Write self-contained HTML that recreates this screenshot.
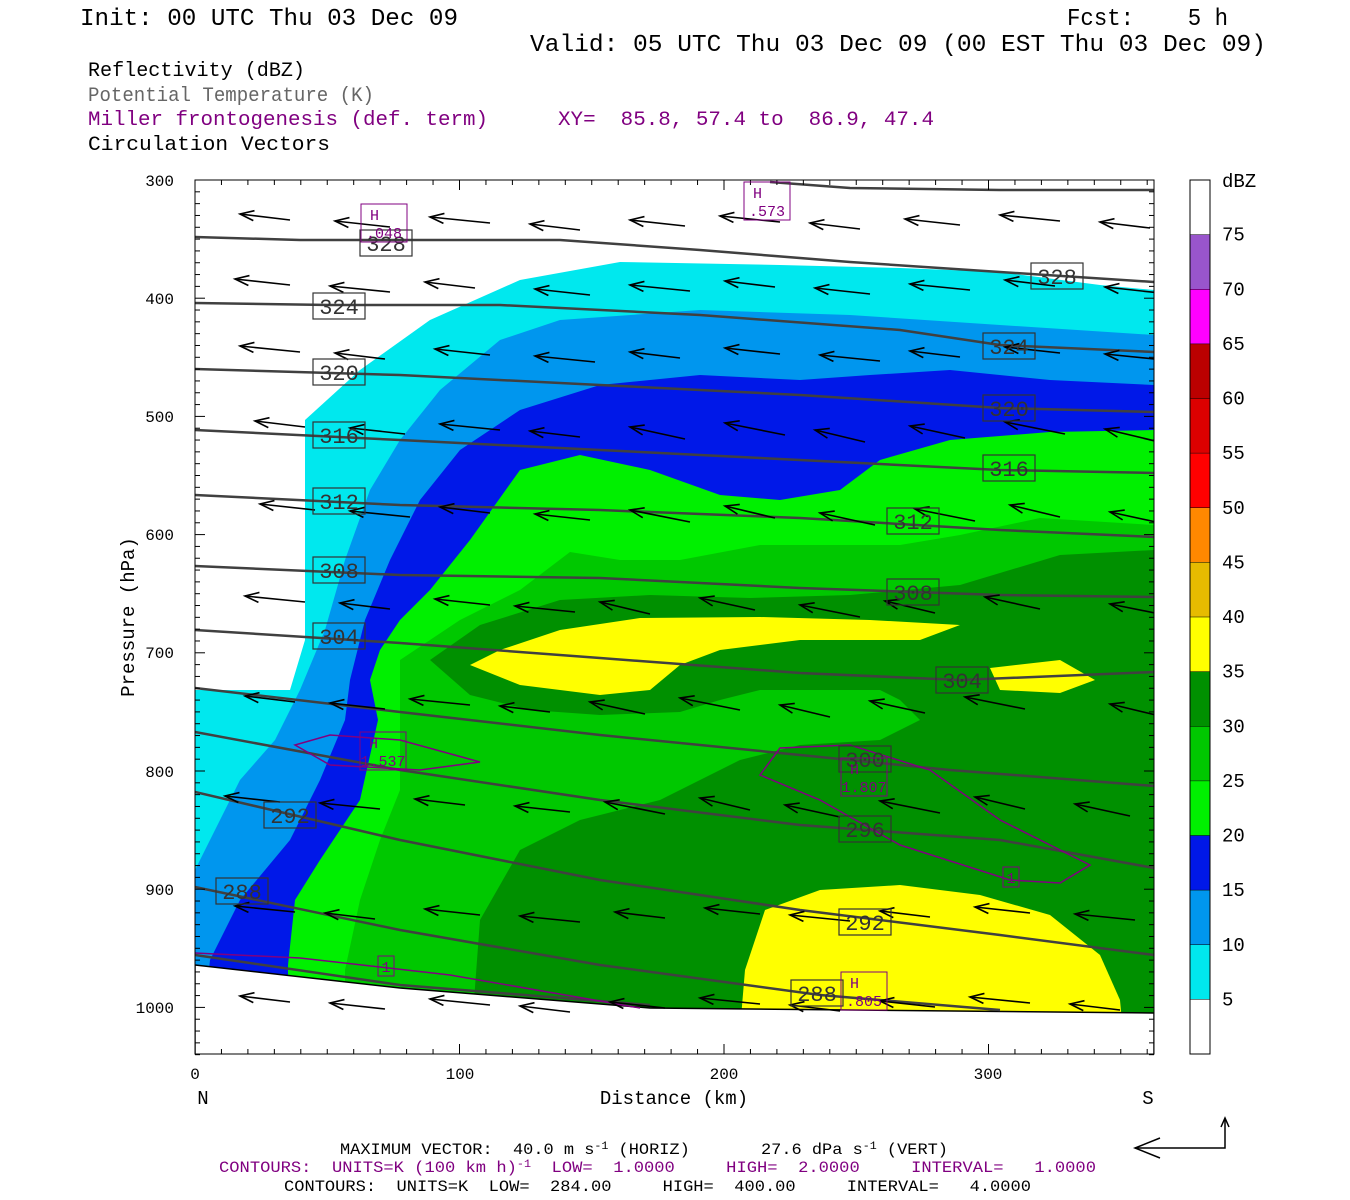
<!DOCTYPE html>
<html><head><meta charset="utf-8"><style>
body{margin:0;background:#fff;width:1350px;height:1200px;overflow:hidden}
svg{display:block}
text{font-family:"Liberation Mono",monospace;white-space:pre}
</style></head><body>
<svg id="s" width="1350" height="1200" viewBox="0 0 1350 1200" xml:space="preserve">
<defs><clipPath id="c"><rect x="195" y="180" width="959" height="874"/></clipPath></defs>
<g font-size="24">
<text x="80" y="25" textLength="378" lengthAdjust="spacingAndGlyphs">Init: 00 UTC Thu 03 Dec 09</text>
<text x="1067" y="25" textLength="161" lengthAdjust="spacingAndGlyphs">Fcst:    5 h</text>
<text x="530" y="51" textLength="736" lengthAdjust="spacingAndGlyphs">Valid: 05 UTC Thu 03 Dec 09 (00 EST Thu 03 Dec 09)</text>
</g>
<g font-size="20">
<text x="88" y="76" textLength="217" lengthAdjust="spacingAndGlyphs">Reflectivity (dBZ)</text>
<text x="88" y="101" fill="#666" textLength="286" lengthAdjust="spacingAndGlyphs">Potential Temperature (K)</text>
<text x="88" y="125" fill="#800080" textLength="400" lengthAdjust="spacingAndGlyphs">Miller frontogenesis (def. term)</text>
<text x="558" y="125" fill="#800080" textLength="376" lengthAdjust="spacingAndGlyphs">XY=  85.8, 57.4 to  86.9, 47.4</text>
<text x="88" y="150" textLength="242" lengthAdjust="spacingAndGlyphs">Circulation Vectors</text>
</g>
<g clip-path="url(#c)">
<rect x="195" y="180" width="959" height="874" fill="#fff"/>
<polygon fill="#00e8ee" points="195,690 290,690 305,640 305,420 360,370 430,320 520,280 620,262 780,265 900,268 1000,272 1100,285 1154,290 1154,1054 195,1054"/>
<polygon fill="#0096ee" points="195,870 215,830 240,780 275,740 300,690 325,630 345,560 370,490 400,440 440,390 500,340 560,320 700,310 850,315 1000,325 1154,335 1154,1054 195,1054"/>
<polygon fill="#0018e8" points="210,960 240,900 290,840 320,780 345,720 350,680 365,620 390,560 420,500 460,450 520,410 600,385 700,375 800,380 870,375 950,370 1050,380 1154,385 1154,1054 200,1054"/>
<polygon fill="#00f000" points="288,965 295,900 320,860 360,800 378,720 370,680 380,650 400,620 430,590 470,540 520,470 580,455 650,470 720,495 780,500 840,490 880,460 950,440 1050,432 1154,430 1154,1054 288,1054"/>
<polygon fill="#00c800" points="345,970 360,900 380,840 400,790 400,700 400,660 460,620 520,590 570,552 620,560 680,560 760,545 830,545 900,545 960,535 1040,518 1154,525 1154,1054 345,1054"/>
<polygon fill="#009000" points="430,660 480,625 560,600 650,595 750,598 850,595 960,585 1060,555 1154,550 1154,1054 470,1054 480,920 520,850 580,820 660,800 740,760 800,745 880,740 920,720 900,700 880,690 760,690 720,700 680,712 600,715 530,710 470,695"/>
<polygon fill="#ffff00" points="470,665 500,650 560,630 640,618 760,617 870,620 960,625 920,640 800,640 720,650 680,665 650,690 600,695 520,685"/>
<polygon fill="#ffff00" points="990,668 1060,660 1095,680 1060,693 1000,690"/>
<polygon fill="#ffff00" points="738,1054 745,970 765,910 820,890 900,885 980,895 1050,915 1100,955 1120,1000 1125,1054"/>
<polygon fill="#fff" stroke="#000" stroke-width="1.5" points="195,965 400,988 650,1008 1154,1013 1154,1060 195,1060"/>
<g fill="none" stroke="#404040" stroke-width="2.5">
<polyline points="770,182 850,188 1000,190 1154,190"/>
<polyline points="195,237 300,240 450,240 560,240 700,250 850,262 1000,272 1154,282"/>
<polyline points="195,303 330,305 500,305 700,315 900,330 1000,345 1154,352"/>
<polyline points="195,369 400,375 600,385 800,395 1000,408 1154,412"/>
<polyline points="195,430 400,440 600,450 800,460 1000,470 1154,473"/>
<polyline points="195,495 400,505 600,510 800,518 1000,530 1154,537"/>
<polyline points="195,566 400,575 600,578 800,588 1000,595 1154,597"/>
<polyline points="195,630 400,643 600,658 800,673 960,680 1154,672"/>
<polyline points="195,688 400,712 600,735 800,755 950,770 1154,786"/>
<polyline points="195,732 400,770 600,800 800,825 1000,840 1154,868"/>
<polyline points="195,792 400,840 600,880 800,910 1000,935 1154,955"/>
<polyline points="195,887 400,930 600,965 820,995 1000,1010"/>
<polyline points="195,955 400,985 650,1005"/>
</g>
<g fill="none" stroke="#800080" stroke-width="1.5">
<polygon points="295,745 330,735 400,740 480,762 420,770 330,765"/>
<polygon points="760,775 780,748 850,745 930,770 1000,820 1090,865 1060,883 1010,880 900,845 820,800"/>
<polyline points="195,953 300,958 450,975 640,1008"/>
</g>
<g id="arr" stroke="#000" stroke-width="1.6" fill="none"></g>
</g>
<rect x="195" y="180" width="959" height="874" fill="none" stroke="#000"/>
<g id="ticks" stroke="#000"></g>
<g font-size="16" text-anchor="end">
<text x="174" y="186">300</text><text x="174" y="304">400</text><text x="174" y="422">500</text><text x="174" y="540">600</text><text x="174" y="658">700</text><text x="174" y="777">800</text><text x="174" y="895">900</text><text x="174" y="1013">1000</text>
</g>
<g font-size="16" text-anchor="middle">
<text x="195" y="1079">0</text><text x="460" y="1079">100</text><text x="724" y="1079">200</text><text x="988" y="1079">300</text>
</g>
<text x="203" y="1104" font-size="19" text-anchor="middle">N</text>
<text x="1148" y="1104" font-size="19" text-anchor="middle">S</text>
<text x="674" y="1104" font-size="19" text-anchor="middle">Distance (km)</text>
<text transform="translate(134,617) rotate(-90)" font-size="19" text-anchor="middle">Pressure (hPa)</text>
<g id="cb"></g>
<text x="1222" y="187" font-size="19">dBZ</text>
<g font-size="16">
<text x="340" y="1154" textLength="608" lengthAdjust="spacingAndGlyphs">MAXIMUM VECTOR:  40.0 m s<tspan dy="-5" font-size="11">-1</tspan><tspan dy="5"> (HORIZ)       27.6 dPa s</tspan><tspan dy="-5" font-size="11">-1</tspan><tspan dy="5"> (VERT)</tspan></text>
<text x="219" y="1172" fill="#800080" textLength="877" lengthAdjust="spacingAndGlyphs">CONTOURS:  UNITS=K (100 km h)<tspan dy="-5" font-size="11">-1</tspan><tspan dy="5">  LOW=  1.0000     HIGH=  2.0000     INTERVAL=   1.0000</tspan></text>
<text x="284" y="1191" textLength="747" lengthAdjust="spacingAndGlyphs">CONTOURS:  UNITS=K  LOW=  284.00     HIGH=  400.00     INTERVAL=   4.0000</text>
</g>
<g stroke="#000" stroke-width="1.5" fill="none"><polyline points="1225,1120 1225,1148 1135,1148"/><polyline points="1160,1138 1135,1148 1160,1158"/><polyline points="1221,1127 1225,1118 1229,1127"/></g>
</svg>
<script>
var NS="http://www.w3.org/2000/svg",s=document.getElementById('s');
function el(p,t,a,txt){var e=document.createElementNS(NS,t);for(var k in a)e.setAttribute(k,a[k]);if(txt)e.textContent=txt;p.appendChild(e);return e;}
var arr=document.getElementById('arr');
var rows=[[218,[240,335,430,530,630,720,810,905,1000,1100]],[283,[235,330,425,535,630,725,815,910,1005,1105]],[350,[240,335,435,535,630,725,820,910,1005,1105]],[425,[255,350,440,530,630,725,815,910,1005,1105]],[508,[260,350,440,535,630,725,820,915,1010,1110]],[600,[245,340,435,515,600,700,800,885,985,1110]],[700,[245,330,410,500,590,680,780,870,965,1110]],[800,[225,320,415,515,605,700,785,880,975,1075]],[910,[235,325,425,520,615,705,790,880,975,1075]],[1000,[240,330,430,520,610,700,790,880,970,1070]]];
rows.forEach(function(r,i){r[1].forEach(function(x,j){var y=r[0]+((j*7)%11)-4;var L=50+((i+j)%3)*5;var dy=(j>3&&i>2&&i<8)?12:6;
el(arr,'line',{x1:x,y1:y,x2:x+L,y2:y+dy});var a=Math.atan2(dy,L);
var c=Math.cos(a),sn=Math.sin(a);var hx=14,hy=5;
el(arr,'polyline',{points:(x+hx*c-hy*sn)+','+(y+hx*sn+hy*c)+' '+x+','+y+' '+(x+hx*c+hy*sn)+','+(y+hx*sn-hy*c)});});});
var t=document.getElementById('ticks');
for(var p=300;p<=1040;p+=10){var y=180+(p-300)*1.182;var l=(p%100==0)?10:5;el(t,'line',{x1:195,y1:y,x2:195+l,y2:y});el(t,'line',{x1:1154,y1:y,x2:1154-l,y2:y});}
for(var d=0;d<=360;d+=10){var x=195+d*2.645;var l=(d%100==0)?10:5;el(t,'line',{x1:x,y1:1054,x2:x,y2:1054-l});el(t,'line',{x1:x,y1:180,x2:x,y2:180+l});}
var labs=[[386,243,'328'],[1057,276,'328'],[339,306,'324'],[1009,346,'324'],[339,372,'320'],[1009,408,'320'],[339,435,'316'],[1009,468,'316'],[339,501,'312'],[913,521,'312'],[339,570,'308'],[913,592,'308'],[339,636,'304'],[962,680,'304'],[865,759,'300'],[865,829,'296'],[290,815,'292'],[865,922,'292'],[242,891,'288'],[817,993,'288']];
labs.forEach(function(l){el(s,'rect',{x:l[0]-26,y:l[1]-13,width:52,height:26,fill:'none',stroke:'#333','stroke-width':1.2});el(s,'text',{x:l[0],y:l[1]+8,'font-size':22,'text-anchor':'middle',fill:'#333'},l[2]);});
var hs=[[384,222,'.048'],[767,200,'.573'],[383,750,'1.537'],[864,776,'1.807'],[864,990,'.805']];
hs.forEach(function(h){el(s,'rect',{x:h[0]-23,y:h[1]-18,width:46,height:38,fill:'none',stroke:'#800080'});el(s,'text',{x:h[0]-14,y:h[1]-2,'font-size':15,fill:'#800080'},'H');el(s,'text',{x:h[0],y:h[1]+16,'font-size':15,fill:'#800080','text-anchor':'middle'},h[2]);});
[[386,966],[1011,877]].forEach(function(o){el(s,'rect',{x:o[0]-8,y:o[1]-10,width:16,height:20,fill:'none',stroke:'#800080'});el(s,'text',{x:o[0],y:o[1]+6,'font-size':15,fill:'#800080','text-anchor':'middle'},'1');});
var cols=['#ffffff','#9955cc','#ff00ff','#bb0000','#dd0000','#ff0000','#ff8800','#e6bb00','#ffff00','#009000','#00c800','#00f000','#0018e8','#0096ee','#00e8ee','#ffffff'];
var cb=document.getElementById('cb');var h=874/16;
cols.forEach(function(c,i){el(cb,'rect',{x:1190,y:180+i*h,width:20,height:h,fill:c});});
el(cb,'rect',{x:1190,y:180,width:20,height:874,fill:'none',stroke:'#000'});
for(var i=1;i<16;i++){el(cb,'line',{x1:1190,y1:180+i*h,x2:1210,y2:180+i*h,stroke:'#000','stroke-width':0.5});el(cb,'text',{x:1222,y:180+i*h+6,'font-size':19},String(80-5*i));}
</script>
</body></html>
